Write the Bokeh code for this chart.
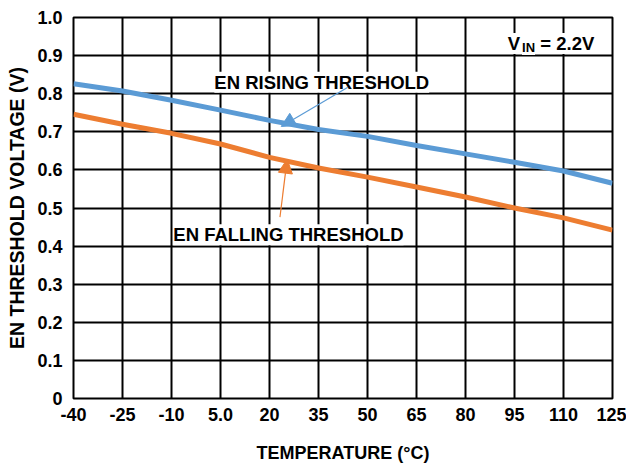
from bokeh.plotting import figure
from bokeh.models import Range1d, FixedTicker, Label, Arrow, NormalHead
from bokeh.embed import file_html
from bokeh.resources import INLINE

# Data
temperature = [-40, -25, -10, 5, 20, 35, 50, 65, 80, 95, 110, 125]
en_rising = [0.826, 0.807, 0.783, 0.757, 0.730, 0.706, 0.688, 0.664, 0.642, 0.620, 0.597, 0.565]
en_falling = [0.746, 0.720, 0.696, 0.668, 0.633, 0.605, 0.581, 0.555, 0.529, 0.500, 0.474, 0.442]

x_ticks = [-40, -25, -10, 5, 20, 35, 50, 65, 80, 95, 110, 125]
x_tick_labels = ["-40", "-25", "-10", "5.0", "20", "35", "50", "65", "80", "95", "110", "125"]
y_ticks = [0, 0.1, 0.2, 0.3, 0.4, 0.5, 0.6, 0.7, 0.8, 0.9, 1.0]
y_tick_labels = ["0", "0.1", "0.2", "0.3", "0.4", "0.5", "0.6", "0.7", "0.8", "0.9", "1.0"]

FONT = "Liberation Sans"
BLUE = "#5B9BD5"
ORANGE = "#ED7D31"

p = figure(width=626, height=466, output_backend="svg", toolbar_location=None,
           x_range=Range1d(-40, 125), y_range=Range1d(0, 1.0),
           min_border_left=73, min_border_right=14, min_border_top=17, min_border_bottom=68)

p.outline_line_color = "black"
p.outline_line_width = 2
p.background_fill_color = "white"
p.border_fill_color = "white"

for g in (p.xgrid, p.ygrid):
    g.grid_line_color = "black"
    g.grid_line_width = 2
p.xgrid.ticker = FixedTicker(ticks=x_ticks)
p.ygrid.ticker = FixedTicker(ticks=y_ticks)

p.xaxis.ticker = FixedTicker(ticks=x_ticks)
p.yaxis.ticker = FixedTicker(ticks=y_ticks)
p.xaxis.major_label_overrides = {t: l for t, l in zip(x_ticks, x_tick_labels)}
p.yaxis.major_label_overrides = {t: l for t, l in zip(y_ticks, y_tick_labels)}

for ax in (p.xaxis, p.yaxis):
    ax.axis_line_color = None
    ax.major_tick_line_color = None
    ax.minor_tick_line_color = None
    ax.major_label_text_font = FONT
    ax.major_label_text_font_style = "bold"
    ax.major_label_text_font_size = "18px"
    ax.major_label_text_color = "black"
    ax.axis_label_text_font = FONT
    ax.axis_label_text_font_style = "bold"
    ax.axis_label_text_color = "black"

p.xaxis.axis_label = "TEMPERATURE (°C)"
p.yaxis.axis_label = "EN THRESHOLD VOLTAGE (V)"
p.xaxis.axis_label_text_font_size = "18px"
p.yaxis.axis_label_text_font_size = "19.5px"
p.xaxis.major_label_standoff = 3
p.yaxis.major_label_standoff = 5
p.xaxis.axis_label_standoff = 19
p.yaxis.axis_label_standoff = 6

p.line(temperature, en_rising, line_color=BLUE, line_width=5)
p.line(temperature, en_falling, line_color=ORANGE, line_width=5)

# Annotations
p.add_layout(Label(x=36.0, y=0.830, text="EN RISING THRESHOLD", text_align="center",
                   text_baseline="alphabetic", text_font=FONT, text_font_style="bold",
                   text_font_size="18.5px", text_color="black",
                   background_fill_color="white", border_line_color=None))
p.add_layout(Label(x=25.8, y=0.430, text="EN FALLING THRESHOLD", text_align="center",
                   text_baseline="alphabetic", text_font=FONT, text_font_style="bold",
                   text_font_size="18.5px", text_color="black",
                   background_fill_color="white", border_line_color=None))

p.add_layout(Arrow(x_start=44.0, y_start=0.817, x_end=23.6, y_end=0.714,
                   line_color=BLUE, line_width=1.2,
                   end=NormalHead(size=14, fill_color=BLUE, line_color=BLUE)))
p.add_layout(Arrow(x_start=23.2, y_start=0.476, x_end=25.4, y_end=0.628,
                   line_color=ORANGE, line_width=1.2,
                   end=NormalHead(size=14, fill_color=ORANGE, line_color=ORANGE)))

# V_IN = 2.2V
p.add_layout(Label(x=92.9, y=0.932, text="V", text_align="left", text_baseline="alphabetic",
                   text_font=FONT, text_font_style="bold", text_font_size="18.5px",
                   text_color="black", background_fill_color="white"))
p.add_layout(Label(x=97.3, y=0.921, text="IN", text_align="left", text_baseline="alphabetic",
                   text_font=FONT, text_font_style="bold", text_font_size="13px",
                   text_color="black", background_fill_color="white"))
p.add_layout(Label(x=102.9, y=0.932, text="= 2.2V", text_align="left", text_baseline="alphabetic",
                   text_font=FONT, text_font_style="bold", text_font_size="18.5px",
                   text_color="black", background_fill_color="white"))

open("out.html", "w").write(file_html(p, INLINE))
